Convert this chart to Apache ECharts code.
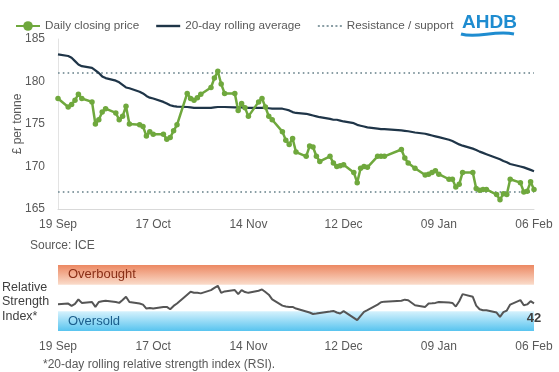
<!DOCTYPE html>
<html>
<head>
<meta charset="utf-8">
<script src="https://cdn.jsdelivr.net/npm/echarts@6/dist/echarts.min.js"></script>
<style>
  html, body { margin: 0; padding: 0; background: #ffffff; }
  #chart { width: 559px; height: 372px; }
</style>
</head>
<body>
<div id="chart"></div>
<script>
// ---------- DATA ----------
const dates = [
  '2025-09-19','2025-09-22','2025-09-23','2025-09-24','2025-09-25','2025-09-26','2025-09-29','2025-09-30',
  '2025-10-01','2025-10-02','2025-10-03','2025-10-06','2025-10-07','2025-10-08','2025-10-09','2025-10-10',
  '2025-10-13','2025-10-14','2025-10-15','2025-10-16','2025-10-17','2025-10-20','2025-10-21','2025-10-22',
  '2025-10-23','2025-10-24','2025-10-27','2025-10-28','2025-10-29','2025-10-30','2025-10-31',
  '2025-11-03','2025-11-04','2025-11-05','2025-11-06','2025-11-07','2025-11-10','2025-11-11','2025-11-12',
  '2025-11-13','2025-11-14','2025-11-17','2025-11-18','2025-11-19','2025-11-20','2025-11-21','2025-11-24',
  '2025-11-25','2025-11-26','2025-11-27','2025-11-28',
  '2025-12-01','2025-12-02','2025-12-03','2025-12-04','2025-12-05','2025-12-08','2025-12-09','2025-12-10',
  '2025-12-11','2025-12-12','2025-12-15','2025-12-16','2025-12-17','2025-12-18','2025-12-19','2025-12-22',
  '2025-12-23','2025-12-24','2025-12-29','2025-12-30','2025-12-31',
  '2026-01-02','2026-01-05','2026-01-06','2026-01-07','2026-01-08','2026-01-09','2026-01-12','2026-01-13',
  '2026-01-14','2026-01-15','2026-01-16','2026-01-19','2026-01-20','2026-01-21','2026-01-22','2026-01-23',
  '2026-01-26','2026-01-27','2026-01-28','2026-01-29','2026-01-30',
  '2026-02-02','2026-02-03','2026-02-04','2026-02-05','2026-02-06'
];

const closingPrice = [
  178.0,177.0,177.3,177.8,178.5,178.0,177.6,175.0,
  175.5,176.4,176.8,176.3,175.5,175.9,177.1,175.0,
  174.9,174.7,173.6,174.1,173.8,173.8,173.2,173.4,
  174.2,174.9,178.6,178.0,177.8,178.1,178.5,
  179.3,180.4,181.2,179.7,178.6,178.6,176.6,177.4,
  176.9,175.9,177.6,178.0,177.0,175.9,175.5,174.1,
  173.1,172.6,173.3,171.7,
  171.2,172.4,172.3,171.2,170.6,171.2,170.4,170.0,
  170.1,170.2,169.3,168.1,169.8,170.0,169.9,171.2,
  171.2,171.2,172.0,171.0,170.4,
  169.8,169.0,169.1,169.3,169.5,169.1,168.5,168.5,
  167.6,167.9,169.3,169.3,167.4,167.2,167.3,167.3,
  166.7,166.1,166.8,166.7,168.5,
  168.1,167.0,167.1,168.2,167.3
];

const rollingAverage = [
  183.2,183.0,182.8,182.4,182.0,181.8,181.6,181.3,
  181.0,180.6,180.4,180.1,179.9,179.6,179.3,179.2,
  178.8,178.6,178.3,178.1,178.0,177.6,177.4,177.2,
  177.1,177.05,177.0,176.95,176.9,176.9,176.9,
  176.9,176.95,177.0,177.0,177.0,176.95,176.95,176.95,
  176.9,176.9,176.9,176.9,176.9,176.85,176.8,176.8,
  176.7,176.6,176.4,176.3,
  176.2,176.1,176.0,175.9,175.8,175.6,175.5,175.5,
  175.4,175.3,175.1,174.9,174.8,174.7,174.6,174.45,
  174.4,174.4,174.25,174.2,174.15,
  174.0,173.85,173.75,173.65,173.55,173.45,173.15,173.0,
  172.8,172.6,172.45,172.1,171.95,171.75,171.6,171.45,
  171.0,170.85,170.65,170.5,170.3,
  170.0,169.9,169.75,169.6,169.45
];

const rsi = [
  40.6,41.5,38.0,41.0,47.8,42.6,44.0,36.5,
  44.0,45.0,45.7,44.0,42.6,47.0,51.8,44.0,
  41.7,40.0,34.0,35.0,34.0,36.5,36.5,33.0,
  38.0,41.7,55.0,59.4,58.0,57.8,57.0,
  62.0,65.4,68.5,57.8,60.0,62.0,55.9,62.0,
  59.0,57.8,61.0,63.0,59.0,55.0,48.0,38.5,
  37.0,36.5,36.5,34.0,
  29.5,28.0,25.8,26.5,27.4,29.5,30.4,28.0,
  26.5,30.0,20.0,16.5,23.0,29.0,31.5,40.0,
  43.5,44.5,45.8,47.5,46.7,
  39.0,36.5,41.7,42.0,42.6,44.0,43.0,42.6,
  37.0,45.0,55.9,51.8,38.5,33.0,31.5,31.5,
  28.0,21.3,28.5,31.0,40.0,
  46.7,39.0,40.3,45.2,42.0
];

const resistanceLevel = 181;
const supportLevel = 167;
const overboughtRange = [70, 100];
const oversoldRange = [0, 30];
const priceTicks = { min: 165, max: 185, interval: 5 };
const tickLabels = ['19 Sep', '17 Oct', '14 Nov', '12 Dec', '09 Jan', '06 Feb'];
const tickStepDays = 28;

// ---------- BUILD ----------
const t0 = Date.parse(dates[0]);
const dayIndex = dates.map(d => Math.round((Date.parse(d) - t0) / 864e5));
const xMax = tickStepDays * (tickLabels.length - 1);
const pair = arr => arr.map((v, i) => [dayIndex[i], v]);
const flat = v => dayIndex.map(x => [x, v]);
const lastIdx = rsi.length - 1;

const FONT = '"Liberation Sans", Arial, sans-serif';
const GREY = '#595959';
const GREEN = '#6FA83D';
const NAVY = '#1F3548';
const DOT = '#8A9EA5';

const xLabel = v => {
  const k = Math.round(v / tickStepDays);
  return (Math.abs(v - k * tickStepDays) < 0.01 && tickLabels[k]) ? tickLabels[k] : '';
};

// legend icon shapes (thin solid bar, and a row of dots)
const barIcon = 'path://M0,0H24V2.4H0Z';
let dotPath = 'path://';
for (let k = 0; k < 6; k++) { const x0 = k * 4.4; dotPath += 'M' + x0 + ',0h2v2h-2z'; }

const chart = echarts.init(document.getElementById('chart'), null, { renderer: 'canvas' });
chart.setOption({
  animation: false,
  backgroundColor: '#ffffff',
  textStyle: { fontFamily: FONT },
  legend: {
    left: 15, top: 20, padding: 0, itemWidth: 24, itemHeight: 12, itemGap: 17,
    textStyle: { fontFamily: FONT, fontSize: 11.7, color: GREY },
    data: [
      { name: 'Daily closing price' },
      { name: '20-day rolling average', icon: barIcon },
      { name: 'Resistance / support', icon: dotPath }
    ]
  },
  grid: [
    { left: 58, right: 25, top: 39, height: 170, outerBoundsMode: 'none', containLabel: false },
    { left: 58, right: 25, top: 265, height: 66, outerBoundsMode: 'none', containLabel: false }
  ],
  xAxis: [
    { gridIndex: 0, type: 'value', min: 0, max: xMax, interval: tickStepDays,
      axisLine: { show: true, lineStyle: { color: '#D9D9D9', width: 1 } },
      axisTick: { show: false }, splitLine: { show: false },
      axisLabel: { formatter: xLabel, margin: 10, fontSize: 12, color: GREY, fontFamily: FONT } },
    { gridIndex: 1, type: 'value', min: 0, max: xMax, interval: tickStepDays,
      axisLine: { show: false }, axisTick: { show: false }, splitLine: { show: false },
      axisLabel: { formatter: xLabel, margin: 10, fontSize: 12, color: GREY, fontFamily: FONT } }
  ],
  yAxis: [
    { gridIndex: 0, type: 'value', min: priceTicks.min, max: priceTicks.max, interval: priceTicks.interval,
      name: '£ per tonne', nameLocation: 'middle', nameGap: 34, nameRotate: 90, nameMoveOverlap: false,
      nameTextStyle: { fontSize: 12, color: GREY, fontFamily: FONT },
      axisLine: { show: true, lineStyle: { color: '#E3E3E3', width: 1 } },
      axisTick: { show: false }, splitLine: { show: false },
      axisLabel: { margin: 13, fontSize: 12, color: GREY, fontFamily: FONT } },
    { gridIndex: 1, type: 'value', min: 0, max: 100, show: false }
  ],
  series: [
    { name: 'Resistance / support', type: 'line', xAxisIndex: 0, yAxisIndex: 0,
      data: flat(resistanceLevel), symbol: 'none', silent: true, z: 1,
      lineStyle: { color: DOT, width: 2, type: [1.6, 3.2] }, itemStyle: { color: DOT } },
    { name: 'Resistance / support', type: 'line', xAxisIndex: 0, yAxisIndex: 0,
      data: flat(supportLevel), symbol: 'none', silent: true, z: 1,
      lineStyle: { color: DOT, width: 2, type: [1.6, 3.2] }, itemStyle: { color: DOT } },
    { name: '20-day rolling average', type: 'line', xAxisIndex: 0, yAxisIndex: 0,
      data: pair(rollingAverage), symbol: 'none', z: 2,
      lineStyle: { color: NAVY, width: 2.2 }, itemStyle: { color: NAVY } },
    { name: 'Daily closing price', type: 'line', xAxisIndex: 0, yAxisIndex: 0,
      data: pair(closingPrice), symbol: 'circle', symbolSize: 5.5, z: 3,
      lineStyle: { color: GREEN, width: 2.5 }, itemStyle: { color: GREEN } },
    { name: 'RSI', type: 'line', xAxisIndex: 1, yAxisIndex: 1,
      data: pair(rsi), symbol: 'none', z: 3,
      lineStyle: { color: '#555555', width: 2 }, itemStyle: { color: '#555555' },
      markPoint: {
        silent: true, symbol: 'circle', symbolSize: 1,
        itemStyle: { color: 'rgba(0,0,0,0)' },
        label: { show: true, position: 'bottom', distance: 8, formatter: p => String(Math.round(p.value)),
          fontFamily: FONT, fontSize: 13, fontWeight: 'bold', color: '#404040' },
        data: [ { coord: [dayIndex[lastIdx], rsi[lastIdx]], value: rsi[lastIdx] } ]
      },
      markArea: {
        silent: true,
        data: [
          [ { yAxis: overboughtRange[1], name: 'Overbought',
              itemStyle: { color: new echarts.graphic.LinearGradient(0, 0, 0, 1, [
                { offset: 0, color: '#EC8862' }, { offset: 1, color: '#FADCCB' }]) },
              label: { color: '#8A2F17' } },
            { yAxis: overboughtRange[0] } ],
          [ { yAxis: oversoldRange[1], name: 'Oversold',
              itemStyle: { color: new echarts.graphic.LinearGradient(0, 0, 0, 1, [
                { offset: 0, color: '#D6F2FD' }, { offset: 1, color: '#58C4EF' }]) },
              label: { color: '#1B5E8C' } },
            { yAxis: oversoldRange[0] } ]
        ],
        label: { show: true, position: 'insideLeft', distance: 10, fontSize: 13, fontFamily: FONT }
      } }
  ],
  graphic: [
    { type: 'text', left: 30, top: 240, style: { text: 'Source: ICE', font: '12px ' + FONT, fill: GREY } },
    { type: 'text', left: 2, top: 280, style: { text: 'Relative\nStrength\nIndex*', font: '12.5px ' + FONT, fill: '#404040', lineHeight: 14.5 } },
    { type: 'text', left: 43, top: 359, style: { text: '*20-day rolling relative strength index (RSI).', font: '12px ' + FONT, fill: GREY } },
    { type: 'text', left: 462, top: 13, style: { text: 'AHDB', font: 'bold 19px ' + FONT, fill: '#1E8CD0' } },
    { type: 'bezierCurve', shape: { x1: 461, y1: 34, cpx1: 477, cpy1: 39, cpx2: 494, cpy2: 30, x2: 514, y2: 34 },
      style: { stroke: '#1E8CD0', lineWidth: 3, fill: null } }
  ]
});
</script>
</body>
</html>
